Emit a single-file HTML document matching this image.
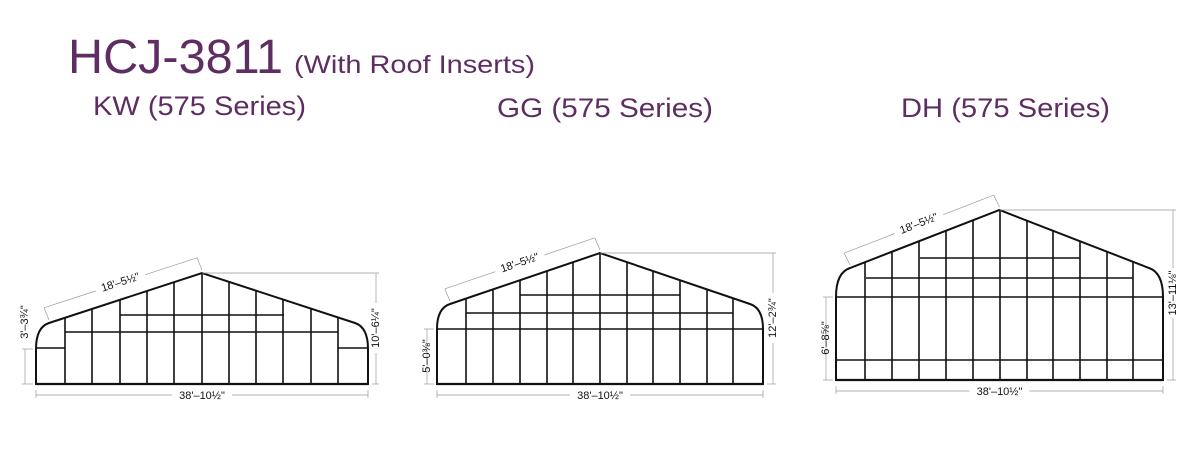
<!DOCTYPE html>
<html><head><meta charset="utf-8"><style>
html,body{margin:0;padding:0;background:#fff;width:1200px;height:450px;overflow:hidden}
svg{display:block}
</style></head><body>
<svg id="s" width="1200" height="450" xmlns="http://www.w3.org/2000/svg" font-family="Liberation Sans, sans-serif">
<text x="68" y="73" font-size="48" fill="#5e2d62" textLength="215" lengthAdjust="spacingAndGlyphs">HCJ-3811</text>
<text x="294" y="73" font-size="25" fill="#5e2d62" textLength="241" lengthAdjust="spacingAndGlyphs">(With Roof Inserts)</text>
<text x="93" y="115" font-size="27" fill="#5e2d62" textLength="213" lengthAdjust="spacingAndGlyphs">KW (575 Series)</text>
<text x="497" y="117" font-size="27" fill="#5e2d62" textLength="216" lengthAdjust="spacingAndGlyphs">GG (575 Series)</text>
<text x="901" y="117" font-size="27" fill="#5e2d62" textLength="209" lengthAdjust="spacingAndGlyphs">DH (575 Series)</text>
<g id="g"></g>
</svg>
<script>
var out='';
function L(x1,y1,x2,y2,w,c){out+='<line x1="'+x1+'" y1="'+y1+'" x2="'+x2+'" y2="'+y2+'" stroke="'+(c||'#111')+'" stroke-width="'+(w||1.6)+'"/>';}
function T(x,y,rot,s,fs){out+='<text x="'+x+'" y="'+y+'" font-size="'+(fs||11)+'" text-anchor="middle" dominant-baseline="middle" fill="#111" transform="rotate('+rot+' '+x+' '+y+')">'+s+'</text>';}
function house(o){
 var xl=o.xl,xr=o.xr,yb=o.yb,px=(xl+xr)/2,py=o.py,ex=o.ex,ey=o.ey,wy=o.wy;
 var exr=xr-(ex-xl);
 function ry(x){var d=Math.abs(px-x);return py+(ey-py)*d/(px-ex);}
 out+='<path d="M'+xl+' '+yb+' L'+xl+' '+wy+' C'+xl+' '+(ey+8)+' '+(ex-6)+' '+(ey+2)+' '+ex+' '+ey+' L'+px+' '+py+' L'+exr+' '+ey+' C'+(exr+6)+' '+(ey+2)+' '+xr+' '+(ey+8)+' '+xr+' '+wy+' L'+xr+' '+yb+' Z" fill="none" stroke="#111" stroke-width="2"/>';
 L(xl,yb,xr,yb,2.2);
 o.posts.forEach(function(x){L(x,yb,x,ry(x),1.6);});
 o.h.forEach(function(h){L(h[1],h[0],h[2],h[0],1.6);});
 var g='#999';
 L(xl,yb+6,xl,yb+14,0.7,g);L(xr,yb+6,xr,yb+14,0.7,g);
 var mx=(xl+xr)/2;L(xl,yb+11,mx-30,yb+11,0.7,g);L(mx+30,yb+11,xr,yb+11,0.7,g);
 T(mx,yb+12,0,'38\'&#8211;10&#189;"');
 var rx=o.rx;L(px,py,rx+3,py,0.7,g);L(xr+4,yb,rx+3,yb,0.7,g);
 var rm=o.rm;L(rx,py,rx,rm-25,0.7,g);L(rx,rm+25,rx,yb,0.7,g);T(rx,rm,-90,o.rt);
 var lx=o.lx;L(lx-3,wy,xl-3,wy,0.7,g);L(lx-3,yb,xl-3,yb,0.7,g);
 L(lx,wy,lx,yb,0.7,g);T(lx,o.lm,-90,o.lt);
 var ang=Math.atan2(py-ey,px-ex);
 var off=16;var ax=ex+Math.sin(ang)*off, ay=ey-Math.cos(ang)*off;
 var bx=px+Math.sin(ang)*off, by=py-Math.cos(ang)*off;
 L(ex,ey-3,ax,ay,0.7,g);L(px,py-3,bx,by,0.7,g);
 var cx=(ax+bx)/2,cy=(ay+by)/2,ux=Math.cos(ang),uy=Math.sin(ang);
 L(ax,ay,cx-ux*26,cy-uy*26,0.7,g);L(cx+ux*26,cy+uy*26,bx,by,0.7,g);
 T(cx,cy,ang*180/Math.PI,'18\'&#8211;5&#189;"');
}
house({xl:36,xr:368,yb:384,py:273,ex:49,ey:323,wy:349,
 posts:[65,92,120,147,174,202,229,256,283,311,338],
 h:[[348,36,65],[348,338,368],[332,65,338],[315,120,284]],
 rx:376,rm:328,rt:'10\'&#8211;6&#188;"',lx:25,lm:322,lt:'3\'&#8211;3&#190;"'});
house({xl:437,xr:763,yb:384,py:253,ex:450,ey:304,wy:329,
 posts:[466,493,520,547,573,600,627,653,680,707,733],
 h:[[329,437,763],[313,466,733],[295,520,680]],
 rx:773,rm:318,rt:'12\'&#8211;2&#190;"',lx:427,lm:356,lt:'5\'&#8211;0&#8540;"'});
house({xl:836,xr:1163,yb:380,py:210,ex:850,ey:268,wy:297,
 posts:[865,892,919,946,973,1000,1027,1053,1080,1107,1133],
 h:[[297,836,1163],[360,836,1163],[278,866,1133],[258,920,1080]],
 rx:1173,rm:293,rt:'13\'&#8211;11&#8539;"',lx:826,lm:338,lt:'6\'&#8211;8&#8541;"'});
document.getElementById('g').innerHTML=out;
</script>
</body></html>
